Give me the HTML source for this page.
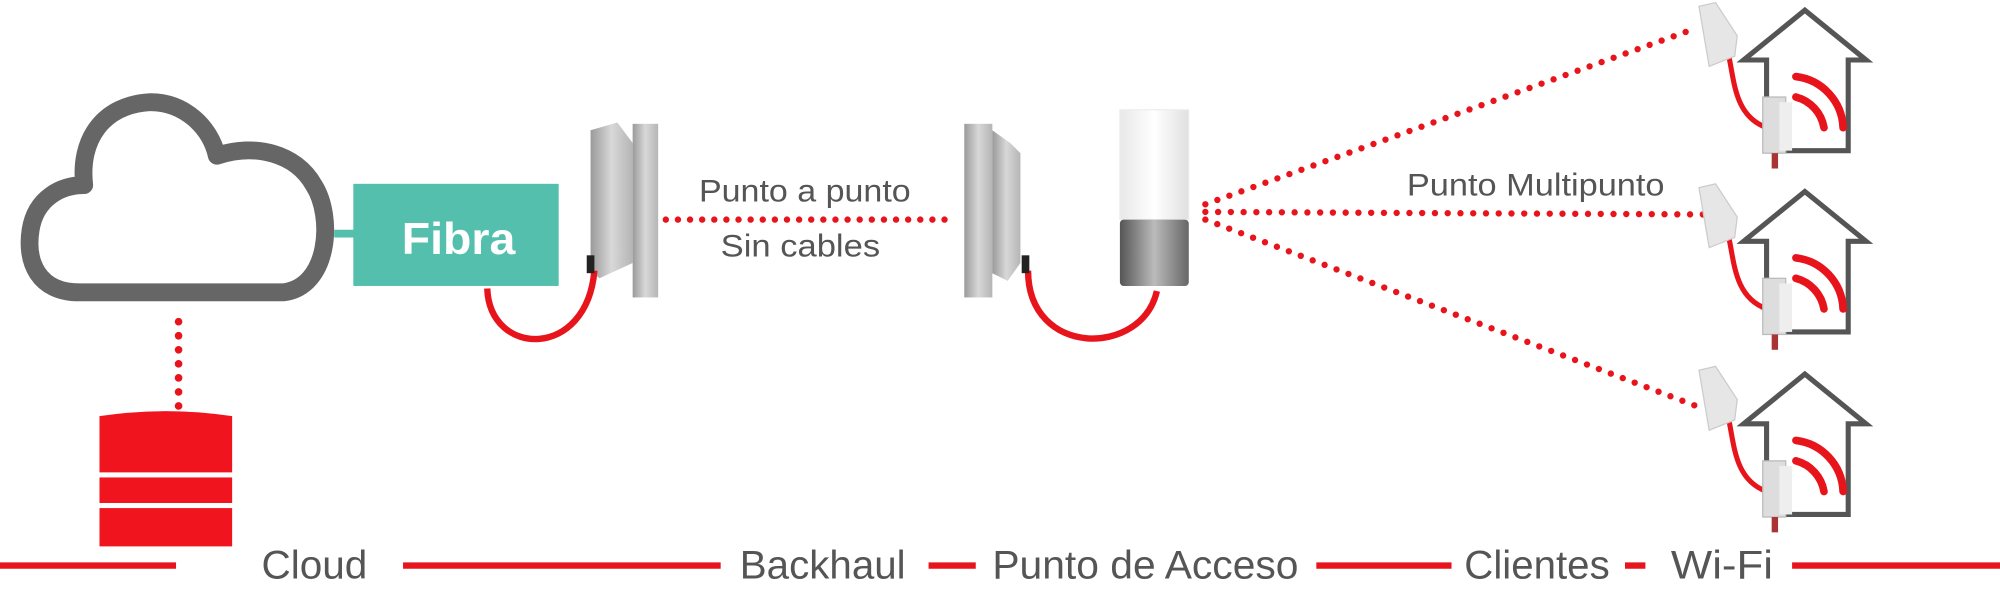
<!DOCTYPE html>
<html><head><meta charset="utf-8"><style>html,body{margin:0;padding:0;background:#fff;width:2000px;height:600px;overflow:hidden}svg{display:block}</style></head>
<body>
<svg width="2000" height="600" viewBox="0 0 1568 470" preserveAspectRatio="none" xmlns="http://www.w3.org/2000/svg" font-family="Liberation Sans, sans-serif">
<defs>
<linearGradient id="plate" x1="0" x2="1"><stop offset="0" stop-color="#9a9a9a"/><stop offset="0.5" stop-color="#d8d8d8"/><stop offset="1" stop-color="#b5b5b5"/></linearGradient>
<linearGradient id="metal" x1="0" x2="1"><stop offset="0" stop-color="#555"/><stop offset="0.5" stop-color="#bbb"/><stop offset="1" stop-color="#666"/></linearGradient>
<linearGradient id="cyl" x1="0" x2="1"><stop offset="0" stop-color="#e8e8e8"/><stop offset="0.5" stop-color="#fff"/><stop offset="1" stop-color="#e0e0e0"/></linearGradient>
<g id="house">
 <path d="M1385 118 V47 H1367 L1415 8 L1463 47 H1449 V118 H1400" fill="none" stroke="#555" stroke-width="4"/>
 <path d="M1408 60 A42 42 0 0 1 1445 100" fill="none" stroke="#e8141c" stroke-width="6" stroke-linecap="round"/>
 <path d="M1408 76 A30 30 0 0 1 1430 100" fill="none" stroke="#e8141c" stroke-width="6" stroke-linecap="round"/>
 <path d="M1354 38 C1360 60 1358 90 1385 100" fill="none" stroke="#e8141c" stroke-width="4"/>
 <rect x="1382" y="76" width="18" height="44" fill="#ddd" stroke="#bbb"/>
 <rect x="1395" y="80" width="10" height="38" fill="#eee"/>
 <rect x="1389" y="120" width="5" height="12" fill="#a33"/>
 <path d="M1332 5 L1345 2 L1362 28 L1360 44 L1340 52 Z" fill="#e6e6e6" stroke="#ccc"/>
</g>
</defs>
<!-- cloud -->
<path d="M62 229 C30 229 20 205 24 180 C28 155 48 145 66 145 C62 110 80 82 118 80 C145 80 165 100 170 122 C200 112 232 120 246 145 C262 170 258 225 222 229 Z" fill="#fff" stroke="#666" stroke-width="14" stroke-linejoin="round"/>
<line x1="262" y1="183" x2="278" y2="183" stroke="#55bfad" stroke-width="6"/>
<rect x="277" y="144" width="161" height="80" fill="#55bfad"/>
<text x="315" y="199" font-size="35" font-weight="bold" fill="#fff" textLength="89" lengthAdjust="spacingAndGlyphs">Fibra</text>
<line x1="140" y1="252" x2="140" y2="322" stroke="#e8141c" stroke-width="6" stroke-linecap="round" stroke-dasharray="0 11"/>
<!-- database -->
<path d="M78 326 Q130 318 182 326 V370 H78 Z" fill="#f0141e"/>
<rect x="78" y="374" width="104" height="20" fill="#f0141e"/>
<rect x="78" y="398" width="104" height="30" fill="#f0141e"/>
<!-- antenna 1 -->
<path d="M463 102 L484 96 L496 112 V206 L470 218 L463 212 Z" fill="url(#plate)"/>
<rect x="496" y="97" width="20" height="136" fill="url(#plate)"/>
<path d="M382 226 C384 280 460 282 466 212" fill="none" stroke="#e8141c" stroke-width="5"/>
<rect x="460" y="200" width="6" height="14" fill="#222"/>
<!-- p2p -->
<line x1="522" y1="172" x2="748" y2="172" stroke="#e8141c" stroke-width="5" stroke-linecap="round" stroke-dasharray="0 9.5"/>
<g font-size="25" fill="#555">
<text x="548" y="158" textLength="166" lengthAdjust="spacingAndGlyphs">Punto a punto</text>
<text x="565" y="201" textLength="125" lengthAdjust="spacingAndGlyphs">Sin cables</text>
<text x="1103" y="153" textLength="202" lengthAdjust="spacingAndGlyphs">Punto Multipunto</text>
</g>
<!-- antenna 2 -->
<rect x="756" y="97" width="22" height="136" fill="url(#plate)"/>
<path d="M778 102 L792 112 L800 120 V206 L790 220 L778 214 Z" fill="url(#plate)"/>
<path d="M806 212 C806 280 895 280 907 228" fill="none" stroke="#e8141c" stroke-width="5"/>
<rect x="801" y="200" width="6" height="14" fill="#222"/>
<!-- cylinder -->
<rect x="878" y="86" width="54" height="86" fill="url(#cyl)" stroke="#eee"/>
<rect x="878" y="172" width="54" height="52" rx="3" fill="url(#metal)"/>
<!-- multipoint -->
<g stroke="#e8141c" stroke-width="5" stroke-linecap="round" stroke-dasharray="0 10" fill="none">
<line x1="945" y1="160" x2="1330" y2="22"/>
<line x1="945" y1="166" x2="1340" y2="168"/>
<line x1="945" y1="172" x2="1335" y2="320"/>
</g>
<!-- houses -->
<use href="#house"/>
<use href="#house" transform="translate(0,142)"/>
<use href="#house" transform="translate(0,285)"/>
<!-- bottom -->
<g stroke="#e8141c" stroke-width="5">
<line x1="0" y1="443" x2="138" y2="443"/>
<line x1="316" y1="443" x2="565" y2="443"/>
<line x1="728" y1="443" x2="765" y2="443"/>
<line x1="1032" y1="443" x2="1138" y2="443"/>
<line x1="1274" y1="443" x2="1290" y2="443"/>
<line x1="1405" y1="443" x2="1568" y2="443"/>
</g>
<g font-size="31" fill="#555">
<text x="205" y="453" textLength="83" lengthAdjust="spacingAndGlyphs">Cloud</text>
<text x="580" y="453" textLength="130" lengthAdjust="spacingAndGlyphs">Backhaul</text>
<text x="778" y="453" textLength="240" lengthAdjust="spacingAndGlyphs">Punto de Acceso</text>
<text x="1148" y="453" textLength="114" lengthAdjust="spacingAndGlyphs">Clientes</text>
<text x="1310" y="453" textLength="80" lengthAdjust="spacingAndGlyphs">Wi-Fi</text>
</g>
</svg>
</body></html>
